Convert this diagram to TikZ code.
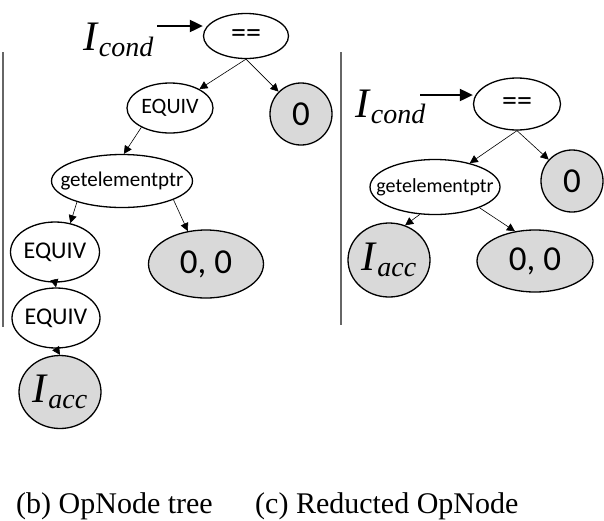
\documentclass[tikz,border=0pt]{standalone}
\usepackage{fontspec}
\setmainfont{Liberation Serif}
\newfontfamily\opfont{Carlito}
\usepackage{tikz}
\usetikzlibrary{shapes.geometric,arrows.meta,positioning,calc}
\newcommand{\Ivar}[1]{{\rmfamily\fontsize{42}{42}\selectfont\textit{I}\raisebox{-6pt}{\fontsize{28}{28}\selectfont\textit{#1}}}}

\begin{document}
\begin{tikzpicture}[x=1pt, y=-1pt,
  every node/.style={font=\opfont\fontsize{22}{22}\selectfont},
  op/.style={draw, ellipse, line width=1.3pt, inner xsep=-14pt, inner ysep=0pt},
  leaf/.style={op, fill=gray!30},
  big/.style={font=\opfont\fontsize{35}{35}\selectfont},
  eqsign/.style={font=\opfont\fontsize{30}{30}\selectfont},
  edge/.style={-{Triangle[length=8pt,width=8pt]}, line width=0.6pt},
  condarrow/.style={-{Triangle[length=13pt,width=12pt]}, line width=2pt}]
\useasboundingbox (0,0) rectangle (604,520);

% Dividers
\draw[line width=1.5pt, black!60] (3,52) -- (3,327);
\draw[line width=1.5pt, black!60] (341,52) -- (341,325);

% (b) OpNode tree
\node[op, minimum width=85, minimum height=45, eqsign] (eqL) at (246,36) {==};
\node[op, minimum width=86, minimum height=50] (equivA) at (170,108) {EQUIV};
\node[leaf, circle, minimum size=62, big] (zeroL) at (301,114) {0};
\node[op, minimum width=141, minimum height=53, font=\opfont\fontsize{21}{21}\selectfont] (gepL) at (122,181) {getelementptr};
\node[op, minimum width=89, minimum height=60, font=\opfont\fontsize{24}{24}\selectfont] (equivB) at (55,252) {EQUIV};
\node[leaf, minimum width=115, minimum height=68, big] (zzL) at (206,264) {0, 0};
\node[op, minimum width=88, minimum height=60, font=\opfont\fontsize{24}{24}\selectfont] (equivC) at (56,318) {EQUIV};
\node[leaf, minimum width=82, minimum height=73] (accL) at (60,392) {\Ivar{acc}};

\node[anchor=base west, inner sep=0pt] (condL) at (83,50) {\Ivar{cond}};
\coordinate (condLtail) at (157,26);
\draw[condarrow] (condLtail) -- (eqL.west |- condLtail);

\draw[edge] (eqL.south) -- (equivA);
\draw[edge] (eqL.south) -- (zeroL);
\draw[edge] (equivA.214) -- (gepL.86);
\draw[edge] (gepL.205) -- (equivB.62);
\draw[edge] (gepL.340) -- (zzL.119);
\draw[edge] (equivB.south) -- (equivC.north);
\draw[edge] (equivC.south) -- (accL.north);

% (c) Reducted OpNode
\node[op, minimum width=87, minimum height=52, eqsign] (eqR) at (517,104) {==};
\node[op, minimum width=130, minimum height=55, font=\opfont\fontsize{20}{20}\selectfont] (gepR) at (435,187) {getelementptr};
\node[leaf, circle, minimum size=62, big] (zeroR) at (572,181) {0};
\node[leaf, minimum width=82, minimum height=74] (accR) at (389,260) {\Ivar{acc}};
\node[leaf, minimum width=116, minimum height=62, big] (zzR) at (535,261) {0, 0};

\node[anchor=base west, inner sep=0pt] (condR) at (355,117) {\Ivar{cond}};
\coordinate (condRtail) at (420,95);
\draw[condarrow] (condRtail) -- (eqR.west |- condRtail);

\draw[edge] (eqR.south) -- (gepR);
\draw[edge] (eqR.south) -- (zeroR);
\draw[edge] (gepR.241) -- (accR.65);
\draw[edge] (gepR.335) -- (zzR.124);

% Captions
\node[anchor=base west, inner sep=0pt, font=\fontsize{30}{30}\selectfont] (capB) at (16,513) {(b) OpNode tree};
\node[anchor=base west, inner sep=0pt, font=\fontsize{30}{30}\selectfont] (capC) at (255,513) {(c) Reducted OpNode};
\end{tikzpicture}
\end{document}
